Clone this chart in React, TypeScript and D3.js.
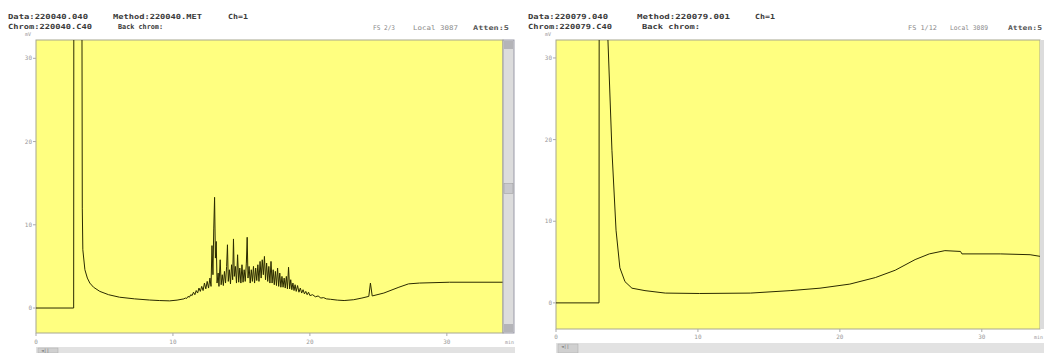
import React from "react";
import * as d3 from "d3";

// ---- data (time in min, signal in mV) ----
const leftTrace: [number, number][] = [
  [0, 0], [2.75, 0], [2.77, 60], [3.33, 60], [3.38, 12], [3.42, 7], [3.57, 4.6], [3.75, 3.6],
  [3.93, 3.0], [4.2, 2.5], [4.66, 2.0], [5.3, 1.6], [6.1, 1.3], [7.2, 1.1], [8.3, 0.96],
  [9.0, 0.9], [9.76, 0.86], [10.3, 0.95], [10.8, 1.1], [10.9, 1.2], [11.0, 1.15], [11.1, 1.4],
  [11.2, 1.3], [11.3, 1.6], [11.4, 1.5], [11.5, 1.9], [11.6, 1.6], [11.7, 2.1], [11.8, 1.8],
  [11.9, 2.4], [12.0, 2.0], [12.1, 2.6], [12.2, 2.1], [12.3, 3.0], [12.4, 2.3], [12.5, 3.2],
  [12.6, 2.4], [12.7, 3.6], [12.78, 2.6], [12.85, 7.5], [12.92, 4.0], [12.98, 9.5], [13.04, 13.3],
  [13.1, 6.0], [13.16, 8.0], [13.22, 3.0], [13.3, 4.2], [13.36, 2.6], [13.45, 5.8], [13.52, 2.8],
  [13.6, 4.0], [13.68, 2.7], [13.76, 4.4], [13.84, 3.0], [13.92, 5.0], [13.98, 7.6], [14.04, 3.2],
  [14.12, 4.6], [14.2, 2.9], [14.28, 5.2], [14.36, 3.4], [14.42, 8.3], [14.48, 3.8], [14.56, 5.0],
  [14.64, 3.0], [14.72, 6.4], [14.8, 3.1], [14.88, 4.8], [14.96, 3.0], [15.04, 5.2], [15.12, 3.1],
  [15.2, 4.6], [15.28, 3.2], [15.36, 5.4], [15.42, 8.5], [15.48, 3.6], [15.56, 5.0], [15.64, 3.0],
  [15.72, 4.6], [15.8, 3.2], [15.88, 5.0], [15.96, 3.0], [16.04, 4.8], [16.12, 3.3], [16.2, 5.2],
  [16.28, 3.2], [16.36, 5.6], [16.44, 3.6], [16.52, 5.8], [16.6, 4.0], [16.68, 6.2], [16.76, 3.4],
  [16.84, 5.4], [16.92, 3.2], [17.0, 5.0], [17.08, 3.0], [17.16, 5.6], [17.24, 3.0], [17.32, 4.6],
  [17.4, 2.8], [17.48, 4.4], [17.56, 2.7], [17.64, 4.8], [17.72, 2.6], [17.8, 4.2], [17.88, 2.5],
  [17.96, 3.8], [18.04, 2.5], [18.12, 3.6], [18.2, 2.4], [18.28, 3.8], [18.36, 2.3], [18.44, 4.9],
  [18.52, 2.3], [18.6, 3.4], [18.68, 2.2], [18.76, 3.0], [18.84, 2.1], [18.92, 2.8], [19.0, 2.0],
  [19.1, 2.7], [19.2, 1.9], [19.3, 2.4], [19.4, 1.8], [19.5, 2.2], [19.6, 1.7], [19.7, 2.0],
  [19.8, 1.6], [19.9, 1.9], [20.0, 1.5], [20.2, 1.6], [20.4, 1.35], [20.6, 1.45], [20.8, 1.2],
  [21.0, 1.25], [21.2, 1.1], [21.5, 1.05], [22.0, 0.95], [22.5, 0.9], [23.2, 1.0], [23.8, 1.2],
  [24.3, 1.4], [24.42, 3.0], [24.55, 1.45], [25.4, 1.8], [26.5, 2.5], [27.2, 2.9], [28.0, 3.0],
  [30.2, 3.1], [34.1, 3.1],
];

const rightTrace: [number, number][] = [
  [0, 0], [3.03, 0], [3.05, 60], [3.6, 60], [3.66, 32.2], [3.94, 18.7], [4.23, 8.9], [4.5, 4.3],
  [4.86, 2.6], [5.35, 1.8], [6.27, 1.5], [7.7, 1.2], [10.1, 1.15], [13.7, 1.2], [16.5, 1.5],
  [18.6, 1.8], [20.7, 2.3], [22.5, 3.1], [23.9, 4.0], [25.3, 5.3], [26.3, 6.0], [27.4, 6.4],
  [28.5, 6.3], [28.6, 6.0], [31.3, 6.0], [33.4, 5.9], [34.1, 5.7],
];

const xTicks = [0, 10, 20, 30];
const yTicks = [0, 10, 20, 30];

const leftHeader = ["Data:220040.040", "Method:220040.MET", "Ch=1", "Chrom:220040.C40", "Back chrom:"];
const rightHeader = ["Data:220079.040", "Method:220079.001", "Ch=1", "Chrom:220079.C40", "Back chrom:"];
const leftStatus = ["FS 2/3", "Local 3087", "Atten:5"];
const rightStatus = ["FS 1/12", "Local 3089", "Atten:5"];

type PanelProps = {
  id: string;
  trace: [number, number][];
  x0: number; x1: number; yTop: number; yBot: number;
  yDomain: [number, number];
  header: string[];
  status: string[];
  headerX: number[]; headerW: number[];
  statusX: number[]; statusW: number[];
  xLabelY: number;
  bottomBarY: number;
  rightBar: boolean;
  right: number;
};

const YELLOW = "#ffff80";
const LINE = "#2a2a00";

function Panel(p: PanelProps) {
  const x = d3.scaleLinear().domain([0, 34.1]).range([p.x0, p.x1]);
  const y = d3.scaleLinear().domain(p.yDomain).range([p.yBot, p.yTop]);
  const line = d3.line<[number, number]>().x((d) => x(d[0])).y((d) => y(d[1]));
  const font = "'DejaVu Sans Mono', monospace";
  return (
    <g>
      <defs>
        <clipPath id={p.id}>
          <rect x={p.x0} y={p.yTop} width={p.x1 - p.x0} height={p.yBot - p.yTop} />
        </clipPath>
      </defs>
      {/* header */}
      <g fontFamily={font} fontWeight="bold" fontSize={7} fill="#3a3a3a">
        <text x={p.headerX[0]} y={19} textLength={p.headerW[0]} lengthAdjust="spacingAndGlyphs">{p.header[0]}</text>
        <text x={p.headerX[1]} y={19} textLength={p.headerW[1]} lengthAdjust="spacingAndGlyphs">{p.header[1]}</text>
        <text x={p.headerX[2]} y={19} textLength={p.headerW[2]} lengthAdjust="spacingAndGlyphs">{p.header[2]}</text>
        <text x={p.headerX[0]} y={29} textLength={p.headerW[3]} lengthAdjust="spacingAndGlyphs">{p.header[3]}</text>
        <text x={p.headerX[3]} y={29} textLength={p.headerW[4]} lengthAdjust="spacingAndGlyphs">{p.header[4]}</text>
      </g>
      <g fontFamily={font} fontSize={6.5}>
        {p.status.map((s, i) => (
          <text key={i} x={p.statusX[i]} y={30} textLength={p.statusW[i]} lengthAdjust="spacingAndGlyphs"
            fill={i === 2 ? "#555" : "#8a8a8a"} fontWeight={i === 2 ? "bold" : "normal"}>{s}</text>
        ))}
      </g>
      {/* plot area */}
      <rect x={p.x0} y={p.yTop} width={p.x1 - p.x0} height={p.yBot - p.yTop} fill={YELLOW} stroke="#a8a890" strokeWidth={1} />
      <path d={line(p.trace) || ""} fill="none" stroke={LINE} strokeWidth={1} clipPath={`url(#${p.id})`} />
      {/* y axis */}
      <text x={p.x0 - 8} y={p.yTop - 4} fontSize={5} fill="#999" fontFamily={font} textAnchor="middle">mV</text>
      {yTicks.map((t) => (
        <g key={t}>
          <line x1={p.x0 - 3} x2={p.x0} y1={y(t)} y2={y(t)} stroke="#aaa" />
          <text x={p.x0 - 4} y={y(t) + 2} fontSize={6} fill="#999" fontFamily={font} textAnchor="end">{t}</text>
        </g>
      ))}
      {/* x axis */}
      {xTicks.map((t) => (
        <g key={t}>
          <line x1={x(t)} x2={x(t)} y1={p.yBot} y2={p.yBot + 3} stroke="#aaa" />
          <text x={x(t)} y={p.xLabelY} fontSize={6} fill="#999" fontFamily={font} textAnchor="middle">{t}</text>
        </g>
      ))}
      <text x={p.right - 1} y={p.xLabelY} fontSize={5} fill="#999" fontFamily={font} textAnchor="end">min</text>
      {/* bottom scrollbar */}
      <rect x={p.x0} y={p.bottomBarY} width={p.right - p.x0} height={353 - p.bottomBarY} fill="#e2e2e2" />
      <rect x={p.x0 + 2} y={p.bottomBarY + 1} width={20} height={353 - p.bottomBarY - 1} fill="#d0d0d0" stroke="#aaa" strokeWidth={0.5} />
      <text x={p.x0 + 5} y={p.bottomBarY + 4.8} fontSize={4.5} fill="#666" fontFamily={font}>◄||</text>
      {/* right scrollbar */}
      {p.rightBar ? (
        <g>
          <rect x={p.x1} y={p.yTop} width={11} height={p.yBot - p.yTop} fill="#dcdcdc" stroke="#9a9aa8" strokeWidth={1} />
          <rect x={p.x1 + 1} y={p.yTop + 1} width={9} height={8} fill="#b4b4b8" />
          <rect x={p.x1 + 1} y={p.yBot - 9} width={9} height={8} fill="#b4b4b8" />
          <rect x={p.x1 + 1} y={(p.yTop + p.yBot) / 2 - 3} width={9} height={10} fill="#c8c8cc" stroke="#999" strokeWidth={0.5} />
        </g>
      ) : (
        <rect x={p.x1} y={p.yTop} width={4} height={p.yBot - p.yTop} fill="#dcdcdc" />
      )}
    </g>
  );
}

export default function App() {
  return (
    <svg width={1044} height={353} style={{ position: "absolute", left: 0, top: 0, background: "#fff" }}>
      <Panel
        id="clipL" trace={leftTrace} x0={36} x1={503} yTop={40} yBot={333} yDomain={[-3, 32.2]}
        header={leftHeader} status={leftStatus}
        headerX={[8, 113, 228, 118]} headerW={[80, 89, 20, 84, 45]}
        statusX={[373, 413, 473]} statusW={[22, 45, 36]}
        xLabelY={344} bottomBarY={347} rightBar={true} right={515}
      />
      <Panel
        id="clipR" trace={rightTrace} x0={556} x1={1040} yTop={40} yBot={329} yDomain={[-3.2, 32.2]}
        header={rightHeader} status={rightStatus}
        headerX={[528, 637, 755, 642]} headerW={[80, 93, 20, 84, 58]}
        statusX={[908, 950, 1008]} statusW={[29, 38, 34]}
        xLabelY={339} bottomBarY={343} rightBar={false} right={1044}
      />
    </svg>
  );
}
